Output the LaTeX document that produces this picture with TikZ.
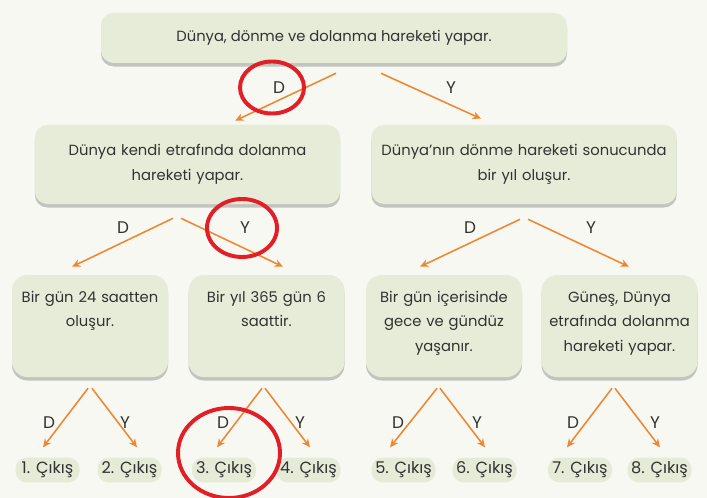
\documentclass[tikz,border=0pt]{standalone}
\usepackage{fontspec}
\setmainfont{Poppins}
\usetikzlibrary{arrows.meta,positioning,calc,shadows}
\definecolor{bgpaper}{RGB}{246,248,241}
\definecolor{sage}{RGB}{231,236,216}
\definecolor{pillsage}{RGB}{229,235,215}
\definecolor{arroworange}{RGB}{239,134,50}
\definecolor{markred}{RGB}{226,30,38}
\definecolor{inkgray}{RGB}{50,50,50}

\begin{document}
\begin{tikzpicture}[
    card/.style={rectangle, fill=sage, rounded corners=9pt, align=center, text=inkgray, font=\fontsize{10.5}{17.5}\selectfont, drop shadow={shadow xshift=0pt, shadow yshift=-2.5pt, opacity=0.3, fill=black!70}},
    topcard/.style={card, minimum width=11.65cm, minimum height=1.25cm},
    midcard/.style={card, text width=7.4cm, minimum width=7.625cm, minimum height=1.975cm},
    leafcard/.style={card, inner sep=0pt, text width=3.85cm, minimum width=3.9cm, text height=0.68cm, text depth=1.87cm, rounded corners=11pt},
    exit/.style={rectangle, fill=pillsage, rounded corners=8pt, minimum width=1.6cm, minimum height=0.62cm, inner sep=1pt, text=inkgray, font=\fontsize{11.5}{13}\selectfont},
    arrow/.style={-{Stealth[length=6pt, width=5.5pt]}, draw=arroworange, line width=1.1pt},
    yn/.style={font=\fontsize{12}{14}\selectfont, text=inkgray},
    ring/.style={draw=markred, line width=2.8pt}
]

% Paper
\fill[bgpaper] (0,0) rectangle (17.675,-12.45);
\useasboundingbox (0,0) rectangle (17.675,-12.45);

% Top statement
\node[topcard] (stmt) at (8.35,-0.95) {Dünya, dönme ve dolanma hareketi yapar.};

% Second level
\node[midcard] (rotq) at (4.6875,-4.1125) {Dünya kendi etrafında dolanma\\ hareketi yapar.};
\node[midcard] (yearq) at (13.1,-4.1125) {Dünya’nın dönme hareketi sonucunda\\ bir yıl oluşur.};

% Third level (text sits at the top of each card)
\foreach \i/\x/\txt in {
    1/2.25/{Bir gün 24 saatten\\ oluşur.},
    2/6.6625/{Bir yıl 365 gün 6\\ saattir.},
    3/11.1/{Bir gün içerisinde\\ gece ve gündüz\\ yaşanır.},
    4/15.4875/{Güneş, Dünya\\ etrafında dolanma\\ hareketi yapar.}} {
    \node[leafcard] (leaf\i) at (\x,-8.15) {\txt};
}

% Exits
\foreach \i/\x in {1/1.1875, 2/3.2375, 3/5.6, 4/7.7125, 5/10.0875, 6/12.1125, 7/14.5, 8/16.4875} {
    \node[exit] (exit\i) at (\x,-11.75) {\i. Çıkış};
}

% Arrows from the top statement
\draw[arrow] ([shift={(0.05,-0.25)}]stmt.south) -- ([shift={(1.19,0.1)}]rotq.north);
\draw[arrow] ([shift={(1.175,-0.25)}]stmt.south) -- ([shift={(-1.075,0.15)}]yearq.north);
\node[yn] (d0) at (6.975,-2.2) {D};
\node[yn] (y0) at (11.275,-2.2) {Y};

% Arrows from the second level
\draw[arrow] ([shift={(-0.3625,-0.35)}]rotq.south) -- ([shift={(-0.45,0.2)}]leaf1.north);
\draw[arrow] ([shift={(-0.1625,-0.35)}]rotq.south) -- ([shift={(0.4125,0.2)}]leaf2.north);
\draw[arrow] ([shift={(-0.1,-0.375)}]yearq.south) -- ([shift={(-0.6,0.2)}]leaf3.north);
\draw[arrow] ([shift={(0.1,-0.375)}]yearq.south) -- ([shift={(0.2375,0.2)}]leaf4.north);
\node[yn] (d1) at (3.075,-5.7) {D};
\node[yn] (y1) at (6.125,-5.7) {Y};
\node[yn] (d2) at (11.75,-5.7) {D};
\node[yn] (y2) at (14.775,-5.7) {Y};

% Arrows to the exits
\foreach \b/\dl/\yr/\ds/\de/\ys/\ye/\dx/\yx in {
    1/1/2/-0.05/-0.1125/0.05/0.1875/1.225/3.125,
    2/3/4/-0.1125/-0.175/-0.0375/0.0375/5.575/7.5,
    3/5/6/-0.175/-0.3375/-0.1/0.0125/9.95/11.925,
    4/7/8/-0.1875/-0.325/-0.1125/0.0125/14.325/16.375} {
    \draw[arrow] ([shift={(\ds,-0.275)}]leaf\b.south) -- ([shift={(\de,0.25)}]exit\dl.north);
    \draw[arrow] ([shift={(\ys,-0.275)}]leaf\b.south) -- ([shift={(\ye,0.25)}]exit\yr.north);
    \node[yn] (d3\b) at (\dx,-10.575) {D};
    \node[yn] (y3\b) at (\yx,-10.575) {Y};
}

% Red marks
\draw[ring] (6.8,-2.1875) ellipse (0.8cm and 0.65cm);
\draw[ring] (6.05,-5.7) ellipse (0.875cm and 0.725cm);
\draw[ring] (5.725,-11.325) ellipse (1.275cm and 1.125cm);

\end{tikzpicture}
\end{document}
